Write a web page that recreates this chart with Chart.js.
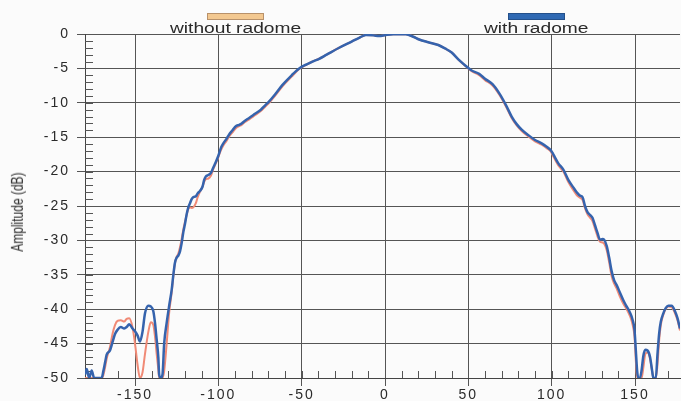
<!DOCTYPE html>
<html>
<head>
<meta charset="utf-8">
<script src="https://cdn.jsdelivr.net/npm/chart.js@4.4.1/dist/chart.umd.min.js"></script>
<style>
  body { margin: 0; background: #fbfbfb; }
  #wrap { position: relative; width: 681px; height: 401px; overflow: hidden; background: #fbfbfb; }
  #grafico { position: absolute; left: 0; top: 0; }
  .legenda { position: absolute; top: 20px; font: 14px "Liberation Sans", Arial, sans-serif; color: #2a2a2a; line-height: 16px; white-space: nowrap; transform: scaleX(1.37); transform-origin: 0 0; }
  .amostra { position: absolute; top: 13px; width: 55px; height: 5px; }
  #tituloY { position: absolute; left: 18px; top: 212px; transform: translate(-50%, -50%) rotate(-90deg) scaleY(1.3); font: 12px "Liberation Sans", Arial, sans-serif; color: #2a2a2a; white-space: nowrap; }
</style>
</head>
<body>
<div id="wrap">
  <canvas id="grafico" width="681" height="401"></canvas>
  <div class="amostra" style="left:207px; background:#f3c890; border:1px solid #b8916a;"></div>
  <div class="legenda" style="left:170px;">without radome</div>
  <div class="amostra" style="left:508px; background:#2f69b3; border:1px solid #24508a;"></div>
  <div class="legenda" style="left:484px;">with radome</div>
  <div id="tituloY">Amplitude (dB)</div>
</div>
<script>
// angulo em graus
const angulo = [
  -180, -179, -177.5, -176, -174.5, -170, -169, -168, -167, -165,
  -163.5, -162, -160.5, -158.5, -156.5, -155, -153.5, -151.5, -150, -148.5,
  -147, -145.5, -144, -142, -140.5, -139, -138, -137, -136, -135.5,
  -134.5, -133.5, -132.5, -131, -129.5, -128, -127, -126, -125, -124,
  -123, -122, -121, -120, -119, -118, -117, -116, -115, -113.5,
  -112.5, -111, -109.5, -108.5, -107.5, -106, -104.5, -103, -101.5, -100,
  -98.5, -97, -95, -93.5, -91.5, -89.5, -87.5, -86, -84, -81.5,
  -78, -74.5, -72, -69.5, -66, -61.5, -56, -51.5, -47, -43.5,
  -39.5, -35, -27.5, -20, -15.5, -11.5, -7, -3.5, 0.5, 5,
  12.5, 17, 20.5, 26, 32, 36, 40, 44, 48.5, 52,
  56.5, 60, 64.5, 68.5, 72.5, 76, 79, 82, 86, 90,
  94, 97, 99.5, 101, 104, 107, 110, 113, 115, 117,
  118.5, 120, 121.5, 123, 124.5, 126, 127.5, 129, 130.5, 131.5,
  133, 134.5, 136, 137.5, 139, 141, 143, 144.5, 147, 148.5,
  149.7, 150.5, 151.3, 152, 153, 154, 155, 156.2, 157.5, 159,
  160.3, 161, 162.5, 163.5, 164.5, 165.5, 167, 168.5, 170, 172,
  174, 175.5, 177
];

// amplitude (dB) com radome (azul)
const comRadome = [
  -49.5, -48.7, -50, -48.9, -50, -50, -49, -47.8, -46.6, -46.0,
  -44.8, -43.6, -43.0, -42.6, -42.8, -42.6, -42.2, -42.8, -43.2, -43.8,
  -44.7, -43.3, -40.6, -39.5, -39.6, -40.3, -42.0, -44.4, -47.0, -49.5,
  -50, -49.5, -45.0, -42.0, -39.5, -37.2, -35.0, -33.2, -32.5, -32.2,
  -31.6, -30.4, -28.8, -27.6, -26.2, -25.2, -24.6, -24.0, -23.7, -23.6,
  -23.2, -22.8, -22.2, -21.2, -20.7, -20.5, -20.2, -19.4, -18.6, -17.7,
  -16.6, -15.9, -15.2, -14.6, -14.0, -13.4, -13.2, -13.0, -12.6, -12.2,
  -11.6, -11.0, -10.4, -9.8, -8.8, -7.4, -6.0, -5.0, -4.4, -4.0,
  -3.6, -3.0, -2.0, -1.1, -0.55, -0.15, -0.2, -0.3, -0.15, -0.05,
  -0.05, -0.4, -0.8, -1.2, -1.6, -2.1, -2.7, -3.7, -4.65, -5.3,
  -5.8, -6.5, -7.3, -8.6, -10.3, -12.0, -13.1, -13.9, -14.7, -15.4,
  -15.9, -16.4, -16.9, -17.5, -18.8, -19.7, -21.2, -22.3, -23.0, -23.5,
  -23.7, -25.0, -25.9, -26.3, -26.7, -27.8, -28.9, -29.9, -29.8, -29.9,
  -30.8, -32.5, -34.5, -35.8, -36.5, -37.6, -38.7, -39.4, -40.5, -41.5,
  -43.0, -46.0, -49.0, -50, -50, -48.8, -46.8, -45.9, -46.0, -46.9,
  -49.0, -50, -50, -46.5, -43.5, -41.8, -40.6, -39.8, -39.5, -39.5,
  -40.3, -41.3, -42.8
];

// amplitude (dB) sem radome (laranja)
const semRadome = [
  -50, -50, -50, -50, -50, -50, -49.6, -48.5, -47.2, -45.5,
  -43.6, -42.3, -41.7, -41.6, -41.8, -41.4, -41.3, -42.6, -45.0, -48.0,
  -50, -49.2, -46.5, -43.3, -41.9, -42.3, -44.0, -46.5, -48.8, -50,
  -50, -50, -49.0, -45.0, -40.5, -37.6, -35.2, -33.3, -32.4, -31.9,
  -31.0, -29.8, -28.4, -27.3, -26.3, -25.4, -25.2, -25.3, -25.2, -24.6,
  -23.8, -22.9, -22.2, -21.5, -21.1, -21.0, -20.6, -19.6, -18.8, -17.9,
  -16.9, -16.2, -15.5, -14.9, -14.3, -13.7, -13.4, -13.2, -12.8, -12.4,
  -11.8, -11.2, -10.6, -10.0, -9.0, -7.6, -6.2, -5.1, -4.45, -4.0,
  -3.6, -3.0, -2.0, -1.1, -0.55, -0.15, -0.2, -0.3, -0.15, -0.05,
  -0.05, -0.4, -0.8, -1.2, -1.6, -2.1, -2.7, -3.7, -4.7, -5.4,
  -6.0, -6.7, -7.5, -8.8, -10.5, -12.2, -13.3, -14.1, -14.9, -15.6,
  -16.1, -16.6, -17.1, -17.8, -19.1, -20.0, -21.5, -22.7, -23.4, -23.8,
  -24.1, -25.3, -26.2, -26.7, -27.2, -28.3, -29.4, -30.2, -30.3, -30.5,
  -31.4, -33.2, -35.2, -36.3, -37.0, -38.2, -39.2, -39.8, -41.0, -42.2,
  -44.0, -47.5, -50, -50, -50, -50, -48.5, -46.5, -46.3, -47.2,
  -49.0, -50, -50, -48.0, -44.5, -42.3, -40.8, -39.9, -39.6, -39.7,
  -40.6, -41.6, -43.1
];

// tracinhos menores dentro do grafico (a cada 10 graus e a cada 1 dB)
const tracosMenores = {
  id: 'tracosMenores',
  beforeDraw(chart) {
    chart.ctx.letterSpacing = '2px';
  },
  beforeDatasetsDraw(chart) {
    const ctx = chart.ctx;
    const area = chart.chartArea;
    const x = chart.scales.x;
    const y = chart.scales.y;
    ctx.save();
    ctx.strokeStyle = '#555';
    ctx.lineWidth = 1;
    ctx.beginPath();
    for (let v = -170; v <= 170; v += 10) {
      const px = Math.round(x.getPixelForValue(v)) + 0.5;
      ctx.moveTo(px, area.bottom);
      ctx.lineTo(px, area.bottom - 7);
    }
    for (let v = -49; v < 0; v++) {
      const py = Math.round(y.getPixelForValue(v)) + 0.5;
      ctx.moveTo(area.left, py);
      ctx.lineTo(area.left + 8, py);
    }
    ctx.stroke();
    ctx.restore();
  }
};

const fonteTicks = { family: '"Liberation Sans", Arial, sans-serif', size: 14 };

new Chart(document.getElementById('grafico'), {
  type: 'line',
  data: {
    datasets: [
      {
        label: 'with radome',
        data: angulo.map((a, i) => ({ x: a, y: comRadome[i] })),
        borderColor: '#3563ad',
        borderWidth: 2.5,
        pointRadius: 0,
        cubicInterpolationMode: 'monotone',
        order: 1
      },
      {
        label: 'without radome',
        data: angulo.map((a, i) => ({ x: a, y: semRadome[i] })),
        borderColor: '#f08a76',
        borderWidth: 2,
        pointRadius: 0,
        cubicInterpolationMode: 'monotone',
        order: 2
      }
    ]
  },
  options: {
    responsive: false,
    animation: false,
    layout: { padding: { top: 34, right: 0, bottom: 0, left: 0 } },
    plugins: {
      legend: { display: false },
      tooltip: { enabled: false }
    },
    scales: {
      x: {
        type: 'linear',
        min: -180,
        max: 177,
        afterFit: s => { s.height = 23; },
        ticks: {
          stepSize: 10,
          autoSkip: false,
          maxRotation: 0,
          padding: 1,
          color: '#2a2a2a',
          font: fonteTicks,
          callback: v => (v % 50 === 0 ? String(v) : '')
        },
        grid: {
          color: c => (c.tick && c.tick.value % 50 === 0 ? '#555' : 'rgba(0,0,0,0)'),
          lineWidth: 1,
          tickLength: 8
        },
        border: { display: true, color: '#444', width: 1 }
      },
      y: {
        min: -50,
        max: 0,
        afterFit: s => { s.width = 85; },
        ticks: {
          stepSize: 1,
          autoSkip: false,
          padding: 7,
          color: '#2a2a2a',
          font: fonteTicks,
          callback: v => (v % 5 === 0 ? String(v) : '')
        },
        grid: {
          color: c => (c.tick && c.tick.value % 5 === 0 ? '#555' : 'rgba(0,0,0,0)'),
          lineWidth: 1,
          tickLength: 8
        },
        border: { display: true, color: '#444', width: 1 }
      }
    }
  },
  plugins: [tracosMenores]
});
</script>
</body>
</html>
